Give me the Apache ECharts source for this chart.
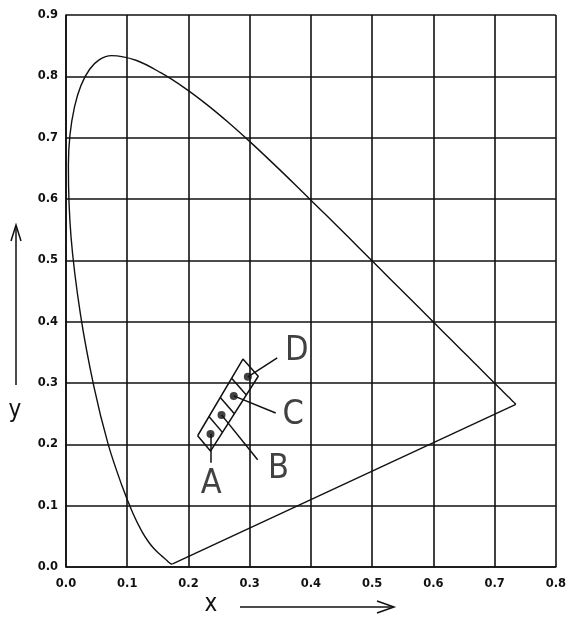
<!DOCTYPE html>
<html>
<head>
<meta charset="utf-8">
<script src="https://cdn.jsdelivr.net/npm/echarts@6/dist/echarts.min.js"></script>
<style>
  html, body { margin: 0; padding: 0; background: #fff; }
  #main { width: 569px; height: 618px; }
</style>
</head>
<body>
<div id="main"></div>
<script>
// 光谱轨迹 (x, y)，380nm -> 700nm
var locusX = [0.1741, 0.1738, 0.1733, 0.1726, 0.1714, 0.1703, 0.1689, 0.1669, 0.1644, 0.1611,
  0.1566, 0.1510, 0.1440, 0.1355, 0.1241, 0.1096, 0.0913, 0.0687, 0.0454, 0.0235,
  0.0082, 0.0039, 0.0139, 0.0389, 0.0743, 0.1142, 0.1547, 0.1929, 0.2296, 0.2658,
  0.3016, 0.3373, 0.3731, 0.4087, 0.4441, 0.4788, 0.5125, 0.5448, 0.5752, 0.6029,
  0.6270, 0.6482, 0.6658, 0.6801, 0.6915, 0.7006, 0.7079, 0.7140, 0.7190, 0.7230,
  0.7260, 0.7300, 0.7320, 0.7347]
var locusY = [0.0050, 0.0049, 0.0048, 0.0048, 0.0051, 0.0058, 0.0069, 0.0086, 0.0109, 0.0138,
  0.0177, 0.0227, 0.0297, 0.0399, 0.0578, 0.0868, 0.1327, 0.2007, 0.2950, 0.4127,
  0.5384, 0.6548, 0.7502, 0.8120, 0.8338, 0.8262, 0.8059, 0.7816, 0.7543, 0.7243,
  0.6923, 0.6589, 0.6245, 0.5896, 0.5547, 0.5202, 0.4866, 0.4544, 0.4242, 0.3965,
  0.3725, 0.3514, 0.3340, 0.3197, 0.3083, 0.2993, 0.2920, 0.2859, 0.2809, 0.2770,
  0.2740, 0.2700, 0.2680, 0.2653]

// 测量点 A B C D
var pointNames = ['A', 'B', 'C', 'D']
var pointX = [0.236, 0.254, 0.274, 0.297]
var pointY = [0.217, 0.248, 0.279, 0.310]

// 点外的矩形框（四个角）
var boxX = [0.215, 0.236, 0.314, 0.289]
var boxY = [0.214, 0.189, 0.311, 0.339]

// 引线终点 和 字母位置
var leaderX = [0.236, 0.313, 0.3425, 0.345]
var leaderY = [0.170, 0.175, 0.251, 0.341]
var labelX = [0.237, 0.347, 0.371, 0.377]
var labelY = [0.135, 0.159, 0.247, 0.352]

var xTicks = ['0.0', '0.1', '0.2', '0.3', '0.4', '0.5', '0.6', '0.7', '0.8']
var yTicks = ['0.0', '0.1', '0.2', '0.3', '0.4', '0.5', '0.6', '0.7', '0.8', '0.9']

var locus = locusX.map(function (x, i) { return [x, locusY[i]] })
// 紫线：两端直连
var purple = [locus[locus.length - 1], locus[0]]

var box = boxX.map(function (x, i) { return [x, boxY[i]] })
box.push(box[0])

// 矩形内的分隔线
var dividers = []
;[0.25, 0.5, 0.75].forEach(function (t) {
  var a = [boxX[0] + (boxX[3] - boxX[0]) * t, boxY[0] + (boxY[3] - boxY[0]) * t]
  var b = [boxX[1] + (boxX[2] - boxX[1]) * t, boxY[1] + (boxY[2] - boxY[1]) * t]
  dividers.push({ coords: [a, b] })
})

var leaders = pointX.map(function (x, i) {
  return { coords: [[x, pointY[i]], [leaderX[i], leaderY[i]]] }
})

var lineStyle = { color: '#111', width: 1.6 }
var tickFont = { color: '#111', fontSize: 11.5, fontFamily: 'DejaVu Sans', fontWeight: 'bold' }
var letterFont = '"DejaVu Sans ExtraLight", "DejaVu Sans Condensed", sans-serif'

var myChart = echarts.init(document.getElementById('main'))

var option = {
  backgroundColor: '#fff',
  animation: false,
  grid: { left: 66, right: 7, top: 15, bottom: 51 },
  xAxis: {
    type: 'value', min: 0, max: 0.8, interval: 0.1,
    axisLine: { lineStyle: lineStyle },
    axisTick: { show: false },
    axisLabel: Object.assign({ margin: 11, formatter: function (v) { return xTicks[Math.round(v * 10)] } }, tickFont),
    splitLine: { show: true, lineStyle: lineStyle }
  },
  yAxis: {
    type: 'value', min: 0, max: 0.9, interval: 0.1,
    axisLine: { show: true, lineStyle: lineStyle },
    axisTick: { show: false },
    axisLabel: Object.assign({ margin: 8, formatter: function (v) { return yTicks[Math.round(v * 10)] } }, tickFont),
    splitLine: { show: true, lineStyle: lineStyle }
  },
  graphic: [
    // y 轴箭头
    { type: 'line', shape: { x1: 16, y1: 385, x2: 16, y2: 226 }, style: { stroke: '#111', lineWidth: 1.5 } },
    { type: 'polyline', shape: { points: [[11, 241], [16, 225], [21, 241]] }, style: { stroke: '#111', lineWidth: 1.5, fill: null } },
    { type: 'text', x: 15, y: 411, style: { text: 'y', fontSize: 24, fontFamily: letterFont, fill: '#111', align: 'center', verticalAlign: 'middle' } },
    // x 轴箭头
    { type: 'line', shape: { x1: 240, y1: 607, x2: 393, y2: 607 }, style: { stroke: '#111', lineWidth: 1.5 } },
    { type: 'polyline', shape: { points: [[377, 601], [394, 607], [377, 613]] }, style: { stroke: '#111', lineWidth: 1.5, fill: null } },
    { type: 'text', x: 211, y: 605, style: { text: 'x', fontSize: 24, fontFamily: letterFont, fill: '#111', align: 'center', verticalAlign: 'middle' } }
  ],
  series: [
    {
      type: 'line', data: locus, symbol: 'none', smooth: 0.35,
      lineStyle: { color: '#111', width: 1.4 }, z: 3
    },
    {
      type: 'line', data: purple, symbol: 'none',
      lineStyle: { color: '#111', width: 1.4 }, z: 3
    },
    {
      type: 'line', data: box, symbol: 'none',
      lineStyle: { color: '#111', width: 1.5 }, z: 3
    },
    {
      type: 'lines', coordinateSystem: 'cartesian2d', data: dividers.concat(leaders),
      lineStyle: { color: '#111', width: 1.5, opacity: 1 }, z: 3
    },
    {
      type: 'scatter', symbolSize: 8,
      data: pointX.map(function (x, i) { return [x, pointY[i]] }),
      itemStyle: { color: '#111' }, z: 4
    },
    {
      type: 'scatter', symbolSize: 0,
      data: labelX.map(function (x, i) { return { value: [x, labelY[i]], name: pointNames[i] } }),
      label: {
        show: true, position: 'inside', formatter: '{b}',
        fontSize: 34, fontFamily: letterFont, color: '#111'
      }, z: 4
    }
  ]
}

myChart.setOption(option)
</script>
</body>
</html>
